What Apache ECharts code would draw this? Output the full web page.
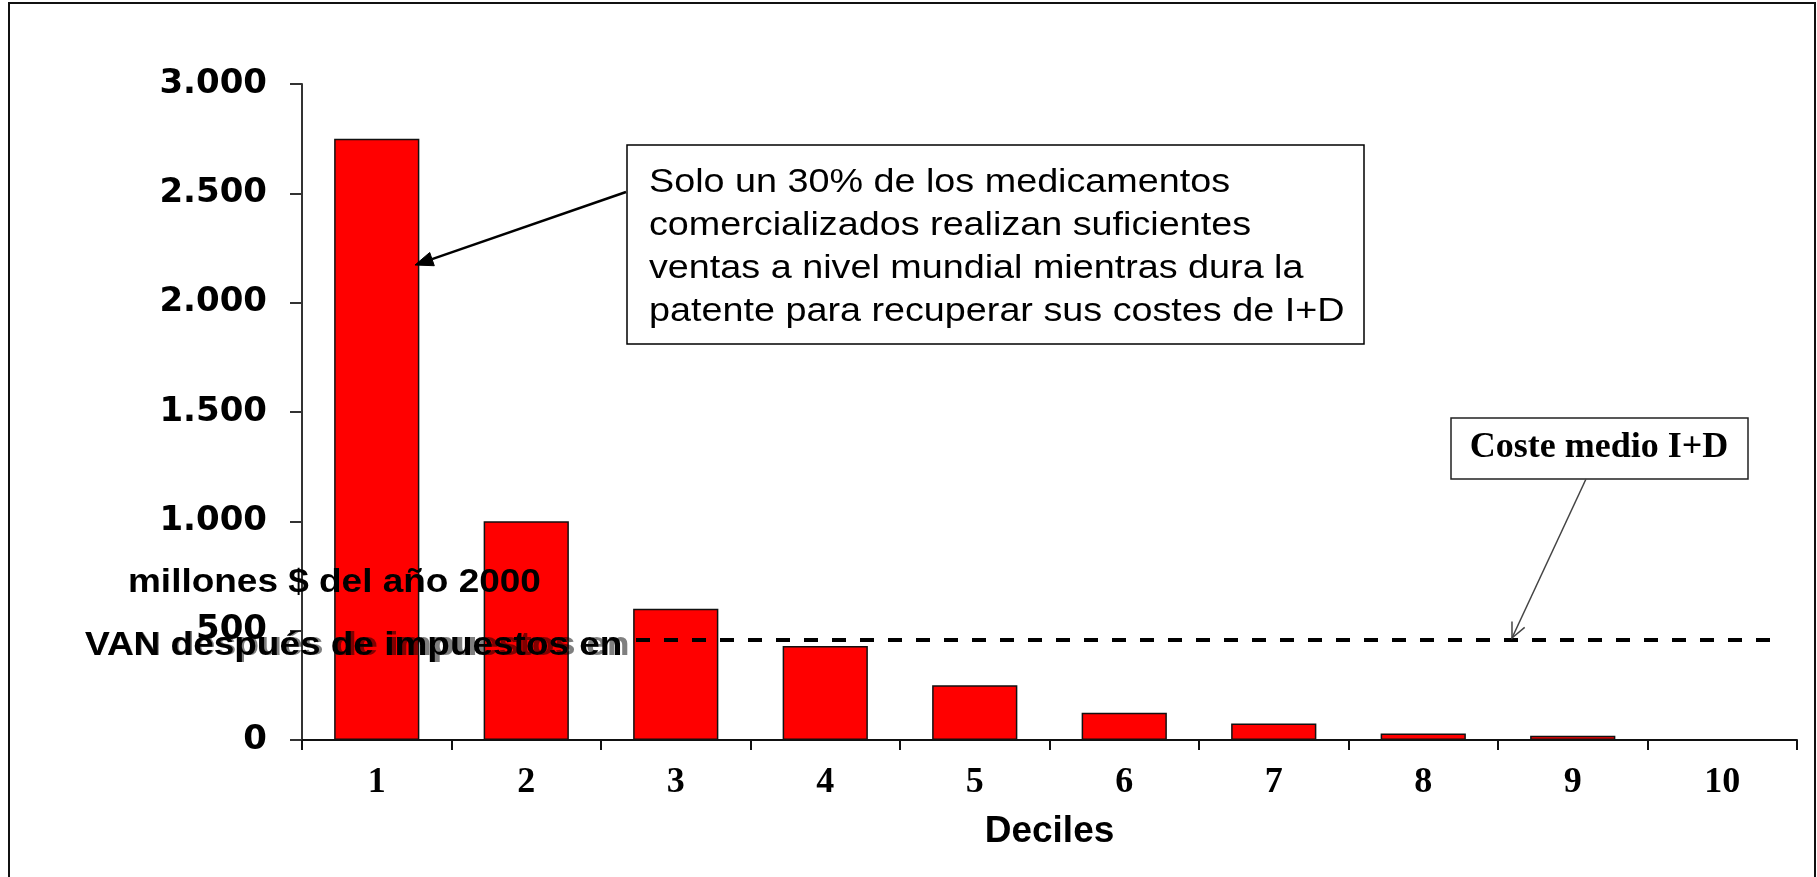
<!DOCTYPE html>
<html>
<head>
<meta charset="utf-8">
<title>VAN por deciles</title>
<script src="https://cdn.jsdelivr.net/npm/echarts@6/dist/echarts.min.js"></script>
<style>
  html, body { margin: 0; padding: 0; background: #ffffff; }
  #chart { width: 1817px; height: 877px; }
</style>
</head>
<body>
<div id="chart"></div>
<script>
// Deciles of marketed drugs and their after-tax NPV (millions of 2000 dollars)
const categories = ['1', '2', '3', '4', '5', '6', '7', '8', '9', '10'];
const vanValues = [2750, 1000, 600, 430, 250, 125, 75, 30, 20, 0];

// Value axis range
const yMin = 0;
const yMax = 3000;
const yInterval = 500;

// Average R&D cost reference level
const costeMedio = 460;
const costeLabel = 'Coste medio I+D';

// Texts
const xTitle = 'Deciles';
const yTitleLines = ['millones $ del año 2000', 'VAN después de impuestos en'];
const noteLines = [
  'Solo un 30% de los medicamentos',
  'comercializados realizan suficientes',
  'ventas a nivel mundial mientras dura la',
  'patente para recuperar sus costes de I+D'
];

function thousands(v) {
  return String(v).replace(/\B(?=(\d{3})+(?!\d))/g, '.');
}

// Arrowhead points for a line ending at (x2, y2)
function headPoints(x1, y1, x2, y2, len, half) {
  const a = Math.atan2(y2 - y1, x2 - x1);
  const bx = x2 - len * Math.cos(a), by = y2 - len * Math.sin(a);
  const px = -Math.sin(a) * half, py = Math.cos(a) * half;
  return [[bx + px, by + py], [x2, y2], [bx - px, by - py]];
}

const sansFamily = '"Liberation Sans", Arial, Helvetica, sans-serif';
const serifFamily = '"Liberation Serif", "Times New Roman", serif';

function textEl(opts) {
  return {
    type: 'text',
    x: opts.x, y: opts.y,
    scaleX: opts.scaleX || 1,
    z: 20,
    silent: true,
    style: {
      text: opts.text,
      fontSize: opts.fontSize,
      fontFamily: opts.fontFamily,
      fontWeight: opts.fontWeight || 'normal',
      lineHeight: opts.lineHeight,
      fill: opts.fill || '#000',
      opacity: opts.opacity == null ? 1 : opts.opacity,
      align: opts.align || 'left',
      textAlign: opts.align || 'left',
      verticalAlign: opts.vAlign || 'middle',
      textVerticalAlign: opts.vAlign || 'middle'
    }
  };
}

// Callout arrows
const arrowNote = { x1: 626, y1: 192, x2: 415, y2: 265 };
const arrowCost = { x1: 1586, y1: 479, x2: 1512, y2: 638 };
const noteHead = headPoints(arrowNote.x1, arrowNote.y1, arrowNote.x2, arrowNote.y2, 18, 7);
const costHead = headPoints(arrowCost.x1, arrowCost.y1, arrowCost.x2, arrowCost.y2, 15, 7);

const graphics = [
  // outer frame
  { type: 'rect', z: 1, silent: true,
    shape: { x: 9, y: 3, width: 1806, height: 900 },
    style: { fill: 'none', stroke: '#111', lineWidth: 2 } },

  // note box
  { type: 'rect', z: 19, silent: true,
    shape: { x: 627, y: 145, width: 737, height: 199 },
    style: { fill: '#fff', stroke: '#000', lineWidth: 1.5 } },
  textEl({ text: noteLines.join('\n'), x: 649, y: 161, scaleX: 1.11,
           fontSize: 34, lineHeight: 43, fontFamily: sansFamily, vAlign: 'top' }),
  { type: 'line', z: 21, silent: true,
    shape: { x1: arrowNote.x1, y1: arrowNote.y1,
             x2: (noteHead[0][0] + noteHead[2][0]) / 2, y2: (noteHead[0][1] + noteHead[2][1]) / 2 },
    style: { stroke: '#000', lineWidth: 2.5 } },
  { type: 'polygon', z: 21, silent: true,
    shape: { points: noteHead },
    style: { fill: '#000', stroke: '#000', lineWidth: 1 } },

  // average cost box
  { type: 'rect', z: 19, silent: true,
    shape: { x: 1451, y: 418, width: 297, height: 61 },
    style: { fill: '#fff', stroke: '#222', lineWidth: 1.5 } },
  textEl({ text: costeLabel, x: 1599, y: 448, fontSize: 36, fontFamily: serifFamily,
           fontWeight: 'bold', align: 'center' }),
  { type: 'line', z: 21, silent: true,
    shape: { x1: arrowCost.x1, y1: arrowCost.y1, x2: arrowCost.x2, y2: arrowCost.y2 },
    style: { stroke: '#444', lineWidth: 1.5 } },
  { type: 'polyline', z: 21, silent: true,
    shape: { points: costHead },
    style: { fill: 'none', stroke: '#444', lineWidth: 1.5 } },

  // value axis title (printed horizontally, second line slightly ghosted)
  textEl({ text: yTitleLines[0], x: 128, y: 583, scaleX: 1.12,
           fontSize: 33, fontFamily: sansFamily, fontWeight: 'bold' }),
  textEl({ text: yTitleLines[1], x: 85, y: 646, scaleX: 1.12,
           fontSize: 33, fontFamily: sansFamily, fontWeight: 'bold' }),
  textEl({ text: yTitleLines[1], x: 85, y: 646, scaleX: 1.135, opacity: 0.5,
           fontSize: 33, fontFamily: sansFamily, fontWeight: 'bold' })
];

const chart = echarts.init(document.getElementById('chart'), null, { renderer: 'canvas' });

chart.setOption({
  backgroundColor: '#ffffff',
  animation: false,
  grid: {
    left: 302, right: 20, top: 84, bottom: 137,
    containLabel: false,
    outerBoundsMode: 'none'
  },
  xAxis: {
    type: 'category',
    data: categories,
    boundaryGap: true,
    name: xTitle,
    nameLocation: 'middle',
    nameGap: 73,
    nameTextStyle: { fontSize: 37, fontWeight: 'bold', fontFamily: sansFamily, color: '#000' },
    axisLine: { show: true, lineStyle: { color: '#111', width: 2 } },
    axisTick: { show: true, alignWithLabel: false, length: 10, lineStyle: { color: '#111', width: 2 } },
    axisLabel: {
      margin: 25, interval: 0,
      fontSize: 36, fontWeight: 'bold', fontFamily: serifFamily, color: '#000'
    },
    splitLine: { show: false }
  },
  yAxis: {
    type: 'value',
    min: yMin, max: yMax, interval: yInterval,
    axisLine: { show: true, lineStyle: { color: '#333', width: 2 } },
    axisTick: { show: true, inside: false, length: 12, lineStyle: { color: '#333', width: 2 } },
    axisLabel: {
      margin: 35,
      fontSize: 34, fontWeight: 'bold', fontFamily: '"DejaVu Sans", Verdana, sans-serif', color: '#000',
      formatter: thousands
    },
    splitLine: { show: false }
  },
  series: [{
    type: 'bar',
    name: 'VAN',
    data: vanValues,
    barCategoryGap: '43%',
    itemStyle: { color: '#ff0000', borderColor: '#111', borderWidth: 1.5 },
    silent: true,
    markLine: {
      silent: true,
      symbol: ['none', 'none'],
      label: { show: false },
      lineStyle: { color: '#000', width: 4, type: [14, 14] },
      data: [[
        { name: costeLabel, yAxis: costeMedio, x: 636 },
        { yAxis: costeMedio, x: 1771 }
      ]]
    }
  }],
  graphic: { elements: graphics }
});
</script>
</body>
</html>
